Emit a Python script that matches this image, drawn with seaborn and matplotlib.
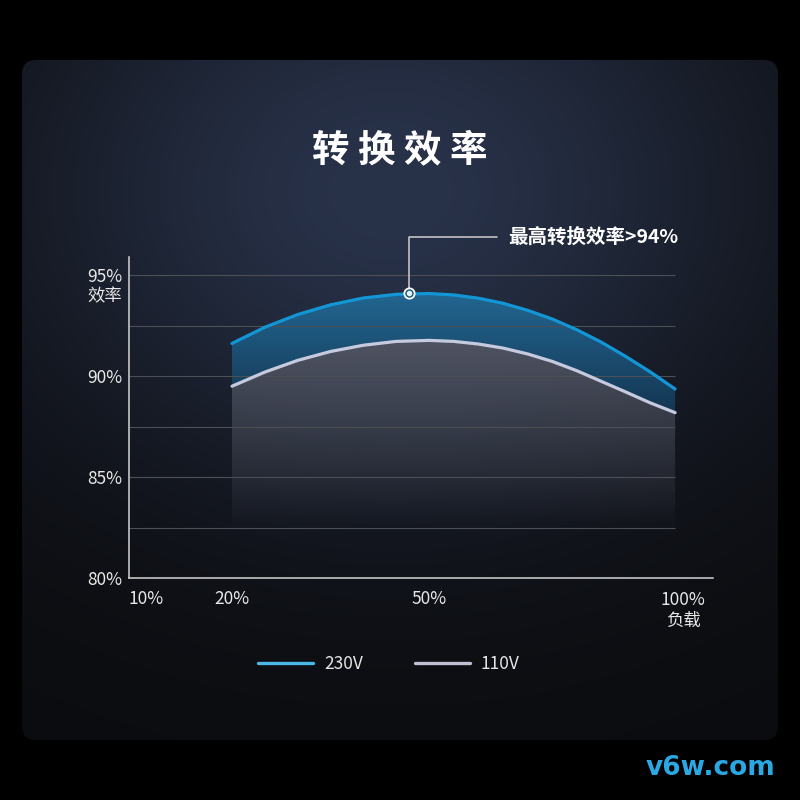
import numpy as np
import pandas as pd
import matplotlib.pyplot as plt
import seaborn as sns
from matplotlib.patches import FancyBboxPatch

# load (%) vs conversion efficiency (%)
loads = [20, 25, 30, 35, 40, 45, 50, 55, 60, 65, 70, 75, 80, 85, 90, 95, 100]
eff_230v = [91.62, 92.42, 93.05, 93.53, 93.87, 94.05, 94.09, 94.02, 93.86,
            93.61, 93.26, 92.83, 92.30, 91.68, 90.97, 90.20, 89.36]
eff_110v = [89.50, 90.20, 90.78, 91.22, 91.53, 91.72, 91.77, 91.72, 91.59,
            91.39, 91.10, 90.73, 90.27, 89.74, 89.21, 88.67, 88.19]
series = ['230V', '110V']

x_ticks = [10, 20, 50]
x_ticklabels = ['10%', '20%', '50%']
y_ticks = [80, 85, 90, 95]
y_ticklabels = ['80%', '85%', '90%', '95%']
grid_levels = [82.5, 85, 87.5, 90, 92.5, 95]

peak_load = 47
peak_value = 94.1
peak_label = '最高转换效率>94%'

# the load axis in the original is unevenly spaced
scale_loads = [0, 10, 20, 50, 100, 200]
scale_pos = [-1.0, 0.0, 1.0, 2.913, 5.301, 10.078]

sns.set_style('white')
plt.rcParams['font.family'] = ['Noto Sans CJK SC', 'DejaVu Sans']

fig = plt.figure(figsize=(8, 8), dpi=100, facecolor='black')

# dark rounded panel with a soft glow behind the title
bg = fig.add_axes([0, 0, 1, 1], zorder=0)
yy, xx = np.mgrid[0:800:2, 0:800:2]
w = np.exp(-((xx - 390) / 380) ** 2 - ((yy - 190) / 300) ** 2)
base = np.array([11, 12, 15]) / 255
hi = np.array([40, 50, 73]) / 255
bg_img = base + w[..., None] * (hi - base)
im = bg.imshow(bg_img, extent=[0, 800, 800, 0], aspect='auto', interpolation='bilinear')
panel = FancyBboxPatch((22, 60), 756, 680, boxstyle='round,pad=0,rounding_size=14',
                       facecolor='none', edgecolor='none', transform=bg.transData)
bg.add_patch(panel)
im.set_clip_path(panel)
bg.set_xlim(0, 800)
bg.set_ylim(800, 0)
bg.axis('off')

ax = fig.add_axes([0.16125, 0.2775, 0.73, 0.40125], zorder=1)
ax.set_facecolor('none')
ax.set_xscale('function', functions=(lambda x: np.interp(x, scale_loads, scale_pos),
                                     lambda p: np.interp(p, scale_pos, scale_loads)))
ymin, ymax = 80, 95.9

# gradient fills
blue_band = ax.fill_between(loads, eff_230v, eff_110v, color='none', lw=0)
gray_band = ax.fill_between(loads, eff_110v, ymin, color='none', lw=0)
levels = ymin + np.linspace(0, 1, 400) * (ymax - ymin)

t = np.clip((levels - 88) / (94.1 - 88), 0, 1)[:, None]
low = np.array([20, 52, 80]) / 255
high = np.array([34, 102, 145]) / 255
blue_rgba = np.concatenate([low + t * (high - low), np.ones_like(t)], axis=1)

a = np.clip((levels - 82.3) / (92.0 - 82.3), 0, 1)[:, None]
gray_rgb = np.tile(np.array([80, 84, 98]) / 255, (len(levels), 1))
gray_rgba = np.concatenate([gray_rgb, a], axis=1)

for rgba, band in [(blue_rgba, blue_band), (gray_rgba, gray_band)]:
    g = ax.imshow(rgba[:, None, :], extent=[0, 1, 0, 1], transform=ax.transAxes,
                  origin='lower', aspect='auto', interpolation='bilinear', zorder=1)
    g.set_clip_path(band.get_paths()[0], ax.transData)

ax.hlines(grid_levels, 10, 100, color='#4d4f57', lw=0.8, zorder=2)

df = pd.DataFrame({
    'load': loads * 2,
    'efficiency': eff_230v + eff_110v,
    'voltage': [series[0]] * len(loads) + [series[1]] * len(loads),
})
sns.lineplot(data=df, x='load', y='efficiency', hue='voltage', hue_order=series,
             palette={'230V': '#1396d6', '110V': '#c6cade'}, linewidth=2.3,
             ax=ax, zorder=3)

# peak marker and callout
ax.scatter([peak_load], [peak_value], s=55, facecolor='#1b5679', edgecolor='white',
           linewidth=1.3, zorder=5)
ax.scatter([peak_load], [peak_value], s=9, color='#dff3ff', zorder=6)
ax.annotate(peak_label, xy=(peak_load, peak_value), xytext=(99, 56),
            textcoords='offset pixels', ha='left', va='center', color='white',
            fontsize=14, fontweight='bold', annotation_clip=False,
            arrowprops=dict(arrowstyle='-', color='#cfcfcf', lw=1.1,
                            connectionstyle='angle,angleA=0,angleB=90,rad=0',
                            relpos=(0, 0.5), shrinkA=6, shrinkB=4))

ax.set_xlim(10, 107.7)
ax.set_ylim(ymin, ymax)
ax.set_xlabel('')
ax.set_ylabel('')
ax.set_xticks(x_ticks, x_ticklabels)
ax.set_yticks(y_ticks, y_ticklabels)
ax.tick_params(axis='both', length=0, colors='#e8e8e8', labelsize=12.5)
ax.tick_params(axis='x', pad=9)
ax.tick_params(axis='y', pad=5)
ax.get_xticklabels()[0].set_ha('left')
for side in ['top', 'right']:
    ax.spines[side].set_visible(False)
for side in ['left', 'bottom']:
    ax.spines[side].set_color('#d4d4d4')
    ax.spines[side].set_linewidth(1.1)

ax.annotate('效率', xy=(0, 95), xycoords=('axes fraction', 'data'), xytext=(-7, -21),
            textcoords='offset pixels', ha='right', va='center', color='#e8e8e8',
            fontsize=12.5)
ax.annotate('100%', xy=(100, ymin), xytext=(8, -22), textcoords='offset pixels',
            ha='center', va='center', color='#e8e8e8', fontsize=12.5,
            annotation_clip=False)
ax.annotate('负载', xy=(100, ymin), xytext=(8, -43), textcoords='offset pixels',
            ha='center', va='center', color='#e8e8e8', fontsize=12.5,
            annotation_clip=False)

sns.move_legend(ax, 'center', bbox_to_anchor=(0.486, 0.1705),
                bbox_transform=fig.transFigure, ncol=2, title=None, frameon=False,
                handlelength=3.15, handletextpad=0.63, columnspacing=3.0,
                fontsize=12.5, labelcolor='#e6e6e6')
for line, c in zip(ax.get_legend().get_lines(), ['#4ab8e4', '#bfc1d2']):
    line.set_color(c)
    line.set_linewidth(2.4)

fig.text(0.5, 0.8125, '转 换 效 率', ha='center', va='center', fontsize=27,
         fontweight='bold', color='white')
fig.text(0.8875, 0.04, 'v6w.com', ha='center', va='center', fontsize=19,
         fontweight='bold', color='#2aa8e4', family='DejaVu Sans')

fig.savefig('out.png', dpi=100, facecolor='black')
